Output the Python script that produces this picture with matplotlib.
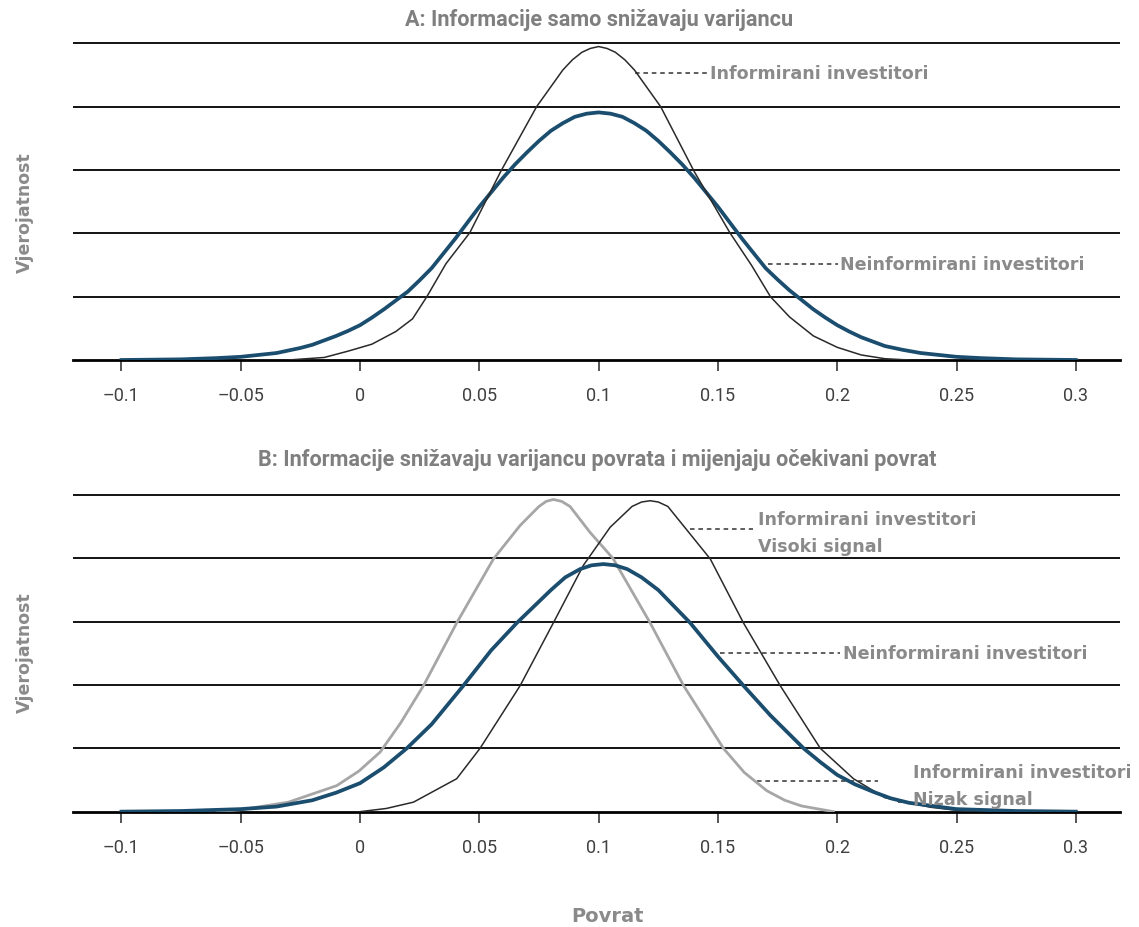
import numpy as np
import matplotlib
matplotlib.use("Agg")
import matplotlib.pyplot as plt

# --- podaci ocitani sa slike (y u jedinicama mreze, 0..5) ---
ticks = [-0.1, -0.05, 0, 0.05, 0.1, 0.15, 0.2, 0.25, 0.3]
tick_labels = ["\u20130.1", "\u20130.05", "0", "0.05", "0.1", "0.15", "0.2", "0.25", "0.3"]

# Panel A
a_neinf_x = [-0.10, -0.075, -0.06, -0.05, -0.0425, -0.035, -0.025, -0.02, -0.015, -0.01,
             -0.005, 0.0, 0.005, 0.01, 0.015, 0.02, 0.025, 0.03, 0.04, 0.05,
             0.06, 0.065, 0.07, 0.075, 0.08, 0.085, 0.09, 0.095, 0.10, 0.105, 0.11,
             0.115, 0.12, 0.125, 0.13, 0.135, 0.14, 0.15, 0.16, 0.17, 0.175, 0.18,
             0.185, 0.19, 0.195, 0.20, 0.205, 0.21, 0.215, 0.22, 0.2275, 0.235, 0.2425,
             0.25, 0.26, 0.275, 0.30]
a_neinf_y = [0.0, 0.01, 0.03, 0.05, 0.08, 0.11, 0.19, 0.24, 0.31, 0.38,
             0.46, 0.55, 0.67, 0.80, 0.94, 1.08, 1.26, 1.45, 1.92, 2.42,
             2.88, 3.09, 3.28, 3.46, 3.62, 3.74, 3.84, 3.89, 3.91, 3.89, 3.84,
             3.74, 3.62, 3.46, 3.28, 3.09, 2.88, 2.42, 1.92, 1.45, 1.27, 1.10,
             0.95, 0.80, 0.67, 0.55, 0.45, 0.36, 0.29, 0.22, 0.16, 0.11, 0.08,
             0.05, 0.03, 0.01, 0.0]

a_inf_x = [-0.03, -0.015, -0.005, 0.005, 0.015, 0.022, 0.028, 0.036, 0.046, 0.059, 0.074,
           0.085, 0.089, 0.093, 0.0965, 0.10, 0.1035, 0.107, 0.111, 0.115, 0.126, 0.14,
           0.155, 0.164, 0.172, 0.18, 0.19, 0.20, 0.21, 0.22, 0.23]
a_inf_y = [0.0, 0.04, 0.14, 0.25, 0.45, 0.65, 1.0, 1.52, 2.01, 2.98, 4.0,
           4.58, 4.74, 4.86, 4.92, 4.95, 4.92, 4.86, 4.74, 4.58, 4.0, 2.98,
           2.01, 1.5, 1.0, 0.68, 0.38, 0.2, 0.08, 0.02, 0.0]

# Panel B
b_neinf_x = [-0.10, -0.075, -0.05, -0.035, -0.02, -0.01, 0.0, 0.01, 0.0196, 0.03, 0.0433,
             0.055, 0.0657, 0.08, 0.086, 0.0922, 0.097, 0.102, 0.107, 0.112, 0.118, 0.125,
             0.1384, 0.15, 0.1607, 0.172, 0.1859, 0.193, 0.20, 0.2075, 0.2153, 0.2225,
             0.23, 0.25, 0.275, 0.30]
b_neinf_y = [0.0, 0.01, 0.04, 0.08, 0.18, 0.30, 0.45, 0.70, 1.0, 1.38, 1.99,
             2.55, 2.98, 3.50, 3.70, 3.83, 3.89, 3.91, 3.89, 3.83, 3.70, 3.50,
             2.98, 2.45, 1.99, 1.52, 1.0, 0.78, 0.58, 0.43, 0.31, 0.21,
             0.14, 0.04, 0.01, 0.0]

b_nizak_x = [-0.06, -0.05, -0.03, -0.0098, -0.0005, 0.0084, 0.017, 0.0266, 0.0405, 0.0559,
             0.0671, 0.075, 0.078, 0.081, 0.0845, 0.088, 0.0964, 0.106, 0.1216, 0.1356,
             0.1523, 0.161, 0.1705, 0.178, 0.185, 0.1984]
b_nizak_y = [0.0, 0.03, 0.15, 0.41, 0.64, 0.94, 1.40, 1.99, 2.98, 3.99,
             4.52, 4.82, 4.90, 4.93, 4.90, 4.82, 4.41, 4.0, 2.98, 1.99,
             1.0, 0.62, 0.33, 0.18, 0.09, 0.0]

b_visoki_x = [0.0, 0.011, 0.0224, 0.0405, 0.0503, 0.0671, 0.081, 0.0936, 0.1048, 0.114,
              0.118, 0.1216, 0.125, 0.129, 0.1468, 0.1607, 0.1761, 0.1929, 0.2068, 0.22,
              0.239, 0.255]
b_visoki_y = [0.0, 0.05, 0.15, 0.52, 1.0, 1.99, 2.98, 3.89, 4.49, 4.82,
              4.89, 4.91, 4.89, 4.82, 3.99, 2.98, 1.99, 1.0, 0.52, 0.22,
              0.07, 0.0]

BLUE = "#1b4d6e"
LABEL_GRAY = "#8a8a8a"

fig = plt.figure(figsize=(11.39, 9.28), dpi=100)
ax_a = fig.add_axes([0.0641, 0.611, 0.9192, 0.348])
ax_b = fig.add_axes([0.0641, 0.1243, 0.9192, 0.348])

for ax, ly in ((ax_a, 0.458), (ax_b, 0.497)):
    ax.set_xlim(-0.1203, 0.3185)
    ax.set_ylim(0, 5.1)
    for lvl in range(1, 6):
        ax.axhline(lvl, color="black", lw=1.3, zorder=1)
    for s in ("left", "right", "top"):
        ax.spines[s].set_visible(False)
    ax.spines["bottom"].set_linewidth(2.0)
    ax.spines["bottom"].set_color("black")
    ax.set_yticks([])
    ax.set_xticks(ticks)
    ax.set_xticklabels(tick_labels, family="Roboto", fontsize=13, color="#404040")
    ax.tick_params(axis="x", direction="out", length=8, width=1.4, color="#555555", pad=11)
    ax.set_ylabel("Vjerojatnost", fontsize=12.5, fontweight="bold", color=LABEL_GRAY)
    ax.yaxis.set_label_coords(-0.037, ly)

def oznaka(ax, x0, x1, y, tx, lines, ys):
    ax.plot([x0, x1], [y, y], color="#333333", lw=1.1, ls=(0, (3, 2.5)), zorder=2)
    for txt, yy in zip(lines, ys):
        ax.text(tx, yy, txt, ha="left", va="center", fontsize=12.6, fontweight="bold",
                color=LABEL_GRAY, zorder=4)

# Panel A
ax_a.plot(a_neinf_x, a_neinf_y, color=BLUE, lw=2.7, zorder=3, solid_joinstyle="round")
ax_a.plot(a_inf_x, a_inf_y, color="#2a2a2a", lw=1.1, zorder=3, solid_joinstyle="round")
oznaka(ax_a, 0.1153, 0.1459, 4.54, 0.1467, ["Informirani investitori"], [4.54])
oznaka(ax_a, 0.171, 0.2003, 1.51, 0.2012, ["Neinformirani investitori"], [1.51])

# Panel B
ax_b.plot(b_nizak_x, b_nizak_y, color="#a6a6a6", lw=2.0, zorder=3, solid_joinstyle="round")
ax_b.plot(b_visoki_x, b_visoki_y, color="#2a2a2a", lw=1.1, zorder=3, solid_joinstyle="round")
ax_b.plot(b_neinf_x, b_neinf_y, color=BLUE, lw=2.7, zorder=3, solid_joinstyle="round")
oznaka(ax_b, 0.1383, 0.1647, 4.47, 0.1668, ["Informirani investitori", "Visoki signal"], [4.62, 4.20])
oznaka(ax_b, 0.1509, 0.2012, 2.50, 0.2024, ["Neinformirani investitori"], [2.50])
oznaka(ax_b, 0.1663, 0.2171, 0.49, 0.2318, ["Informirani investitori", "Nizak signal"], [0.63, 0.20])
ax_b.plot([0.2255, 0.2305], [0.15, 0.15], color="#333333", lw=1.1, ls=(0, (3, 2.5)), zorder=2)

fig.text(0.526, 0.978, "A: Informacije samo snižavaju varijancu", ha="center", va="center",
         family="Roboto", fontweight="bold", fontsize=15.6, color="#7f7f7f")
fig.text(0.524, 0.504, "B: Informacije snižavaju varijancu povrata i mijenjaju očekivani povrat",
         ha="center", va="center", family="Roboto", fontweight="bold", fontsize=15.6,
         color="#7f7f7f")
fig.text(0.533, 0.012, "Povrat", ha="center", va="center", fontsize=14, fontweight="bold",
         color=LABEL_GRAY)

fig.savefig("out.png", dpi=100, facecolor="white")
